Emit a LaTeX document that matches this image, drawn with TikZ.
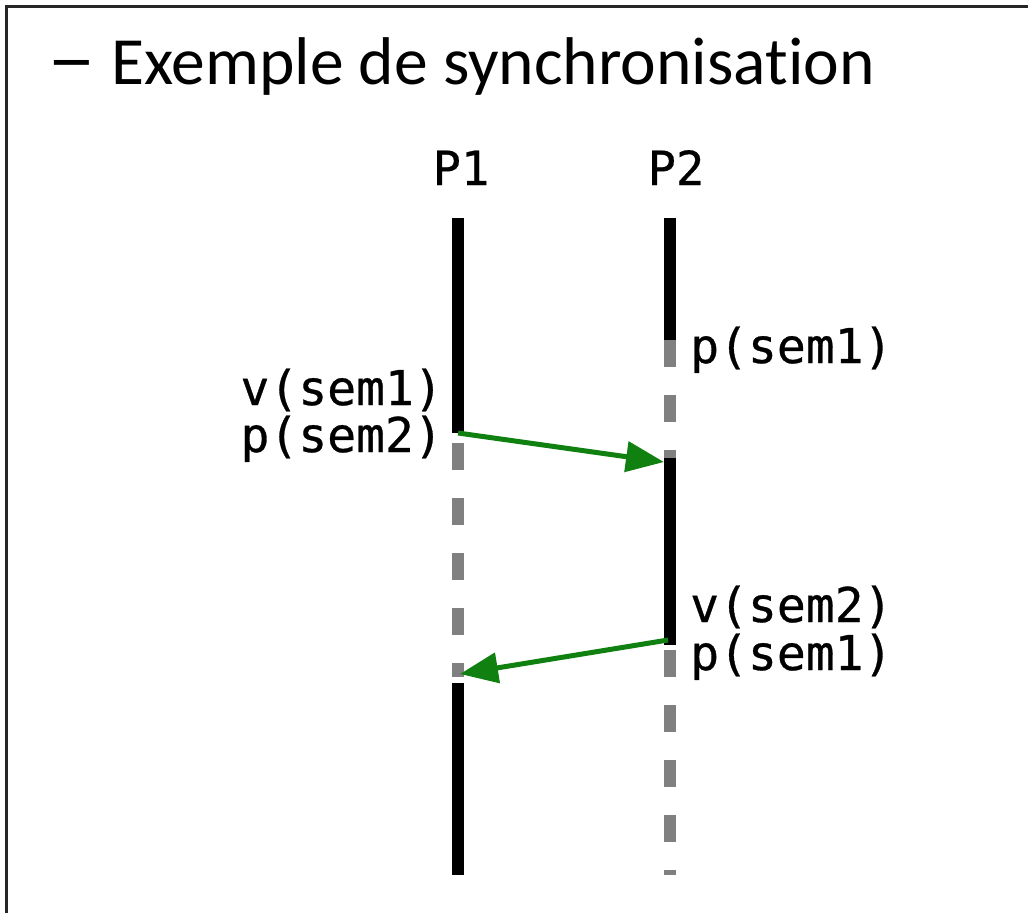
\documentclass[tikz,border=0pt]{standalone}
\usepackage{fontspec}
\setmainfont{Carlito}[Ligatures={NoCommon}]
\newfontfamily\monofont{DejaVu Sans Mono}[FakeBold=0.6]
\usetikzlibrary{arrows.meta}
\definecolor{msggreen}{RGB}{16,128,16}
\definecolor{waitgray}{RGB}{128,128,128}
\tikzset{
  active/.style={line width=12pt, black},
  waiting/.style={line width=12pt, waitgray, dash pattern=on 27pt off 28pt},
  msg/.style={line width=5pt, msggreen, -{Triangle[length=38pt,width=30pt]}},
  proc/.style={font=\monofont\fontsize{47}{47}\selectfont, inner sep=0pt},
  call/.style={font=\monofont\fontsize{48}{48}\selectfont, inner sep=0pt},
  heading/.style={font=\fontsize{67.5}{67.5}\selectfont, inner sep=0pt}
}
\begin{document}
\begin{tikzpicture}[x=1pt,y=-1pt]
  \useasboundingbox (0,0) rectangle (1028,913);
  % frame on the left and top
  \draw[line width=3pt, black!85] (6.5,913) -- (6.5,6.5) -- (1028,6.5);

  % heading
  \node[heading, anchor=base west] (title) at (47,84)
    {\scalebox{1.45}[1.15]{–} Exemple de synchronisation};

  % process names
  \node[proc, anchor=base] (P1) at (461,185) {P1};
  \node[proc, anchor=base] (P2) at (676,185) {P2};

  % key instants on the lifeline of P1
  \coordinate (p1top) at (458,218);
  \coordinate (p1send) at (458,433);
  \coordinate (p1wait) at (458,443);
  \coordinate (p1recv) at (458,677);
  \coordinate (p1tip) at (460,674);
  \coordinate (p1resume) at (458,683);
  \coordinate (p1end) at (458,875);
  % key instants on the lifeline of P2
  \coordinate (p2top) at (670,218);
  \coordinate (p2block) at (670,340);
  \coordinate (p2recv) at (670,458);
  \coordinate (p2tip) at (664,462);
  \coordinate (p2send) at (670,645);
  \coordinate (p2from) at (668,640);
  \coordinate (p2wait) at (670,650);
  \coordinate (p2end) at (670,875);

  % lifeline of P1
  \draw[active] (p1top) -- (p1send);
  \draw[waiting] (p1wait) -- (p1recv);
  \draw[active] (p1resume) -- (p1end);

  % lifeline of P2
  \draw[active] (p2top) -- (p2block);
  \draw[waiting] (p2block) -- (p2recv);
  \draw[active] (p2recv) -- (p2send);
  \draw[waiting] (p2wait) -- (p2end);

  % semaphore operations
  \node[call, anchor=base west] (p2p1) at (690,363) {p(sem1)};
  \node[call, anchor=base east] (p1v1) at (443,405) {v(sem1)};
  \node[call, anchor=base east] (p1p2) at (443,452) {p(sem2)};
  \node[call, anchor=base west] (p2v2) at (690,622) {v(sem2)};
  \node[call, anchor=base west] (p2p1b) at (690,670) {p(sem1)};

  % signals between the processes
  \draw[msg] (p1send) -- (p2tip);
  \draw[msg] (p2from) -- (p1tip);
\end{tikzpicture}
\end{document}
